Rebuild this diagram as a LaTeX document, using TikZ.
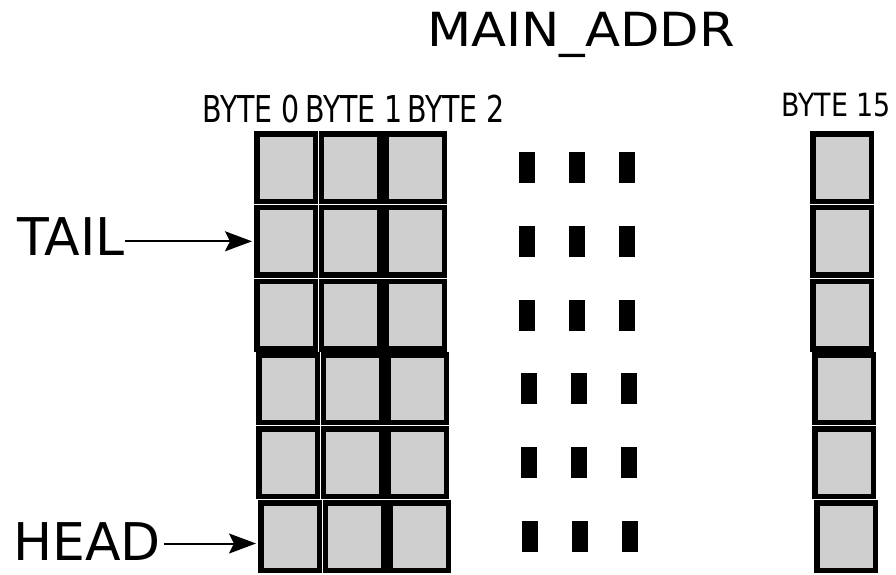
\documentclass[tikz,border=0pt]{standalone}
\usepackage{fontspec}
\setmainfont{DejaVu Sans}
\usetikzlibrary{arrows.meta}
\definecolor{cellgray}{HTML}{CFCFCF}
\tikzset{
  cell/.style={draw=black, fill=cellgray, line width=5.5pt, minimum width=58.5pt, minimum height=67.5pt, inner sep=0pt},
  gapmark/.style={fill=black, minimum width=16pt, minimum height=31pt, inner sep=0pt},
  bigtxt/.style={font=\fontsize{52}{60}\selectfont, inner sep=0pt},
  bytetxt/.style={font=\fontsize{37}{42}\selectfont, inner sep=0pt},
  ptr/.style={line width=2pt, -{Stealth[length=27pt,width=20pt,inset=5pt]}}
}

\begin{document}
\begin{tikzpicture}[x=1pt,y=-1pt]
\useasboundingbox (0,0) rectangle (896,575);
% the byte cells, row by row
\foreach \r/\s in {0/0,1/0,2/0,3/2,4/2,5/4}{
  \foreach \c in {0,1,2}
    \node[cell] (c-\r-\c) at (286+64.5*\c+\s, 167.5+73.8*\r) {};
  \node[cell] (c-\r-15) at (842+\s, 167.5+73.8*\r) {};
  \foreach \k in {0,1,2}
    \node[gapmark] (d-\r-\k) at (527+50*\k+0.8*\s, 167.5+73.8*\r) {};
}
% titles
\node[font=\fontsize{47}{56}\selectfont, inner sep=0pt, anchor=base] (title) at (581,47) {\scalebox{1.09}[1]{MAIN\_ADDR}};
\node[bytetxt, anchor=base] (b0) at (251,122) {\scalebox{0.77}[1]{BYTE 0}};
\node[bytetxt, anchor=base] (b1) at (354,122) {\scalebox{0.77}[1]{BYTE 1}};
\node[bytetxt, anchor=base] (b2) at (456,122) {\scalebox{0.77}[1]{BYTE 2}};
\node[font=\fontsize{32}{38}\selectfont, inner sep=0pt, anchor=base] (b15) at (836,117) {\scalebox{0.84}[1]{BYTE 15}};
% pointers
\node[bigtxt, anchor=base west] (tail) at (17,255) {TAIL};
\node[bigtxt, anchor=base west] (head) at (13,560) {HEAD};
\draw[ptr, shorten >=2pt] (tail.east |- c-1-0) -- (c-1-0.west);
\draw[ptr, shorten >=2pt, shorten <=3pt] ([yshift=-7pt]head.east |- c-5-0) -- ([yshift=-7pt]c-5-0.west);
\end{tikzpicture}
\end{document}
